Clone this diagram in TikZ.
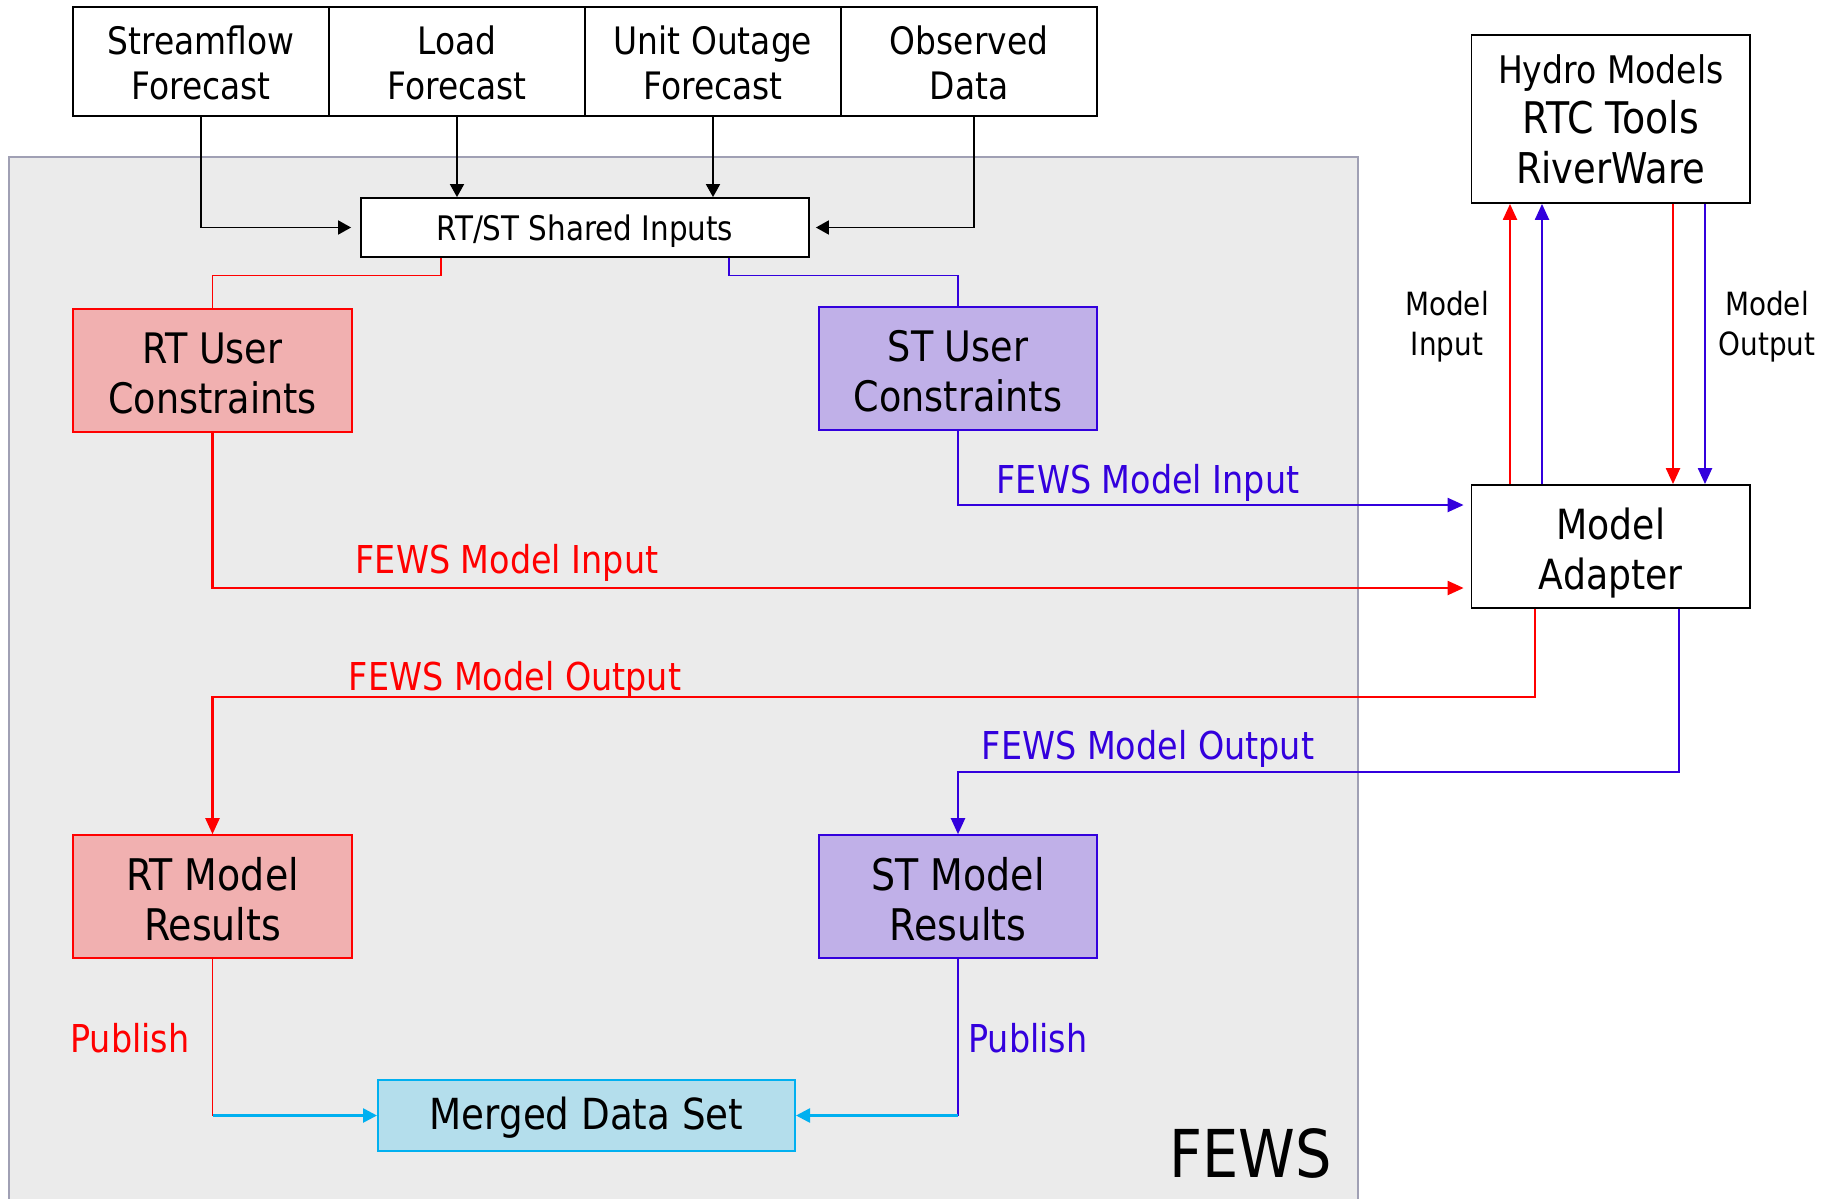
\documentclass[tikz,border=0pt]{standalone}
\usepackage{fontspec}
\newfontfamily\tah[FakeStretch=0.87]{DejaVu Sans}
\usetikzlibrary{arrows.meta,calc}
\definecolor{fred}{RGB}{255,0,0}
\definecolor{fblue}{RGB}{51,0,221}
\definecolor{rtfill}{RGB}{241,176,176}
\definecolor{stfill}{RGB}{192,176,232}
\definecolor{mfill}{RGB}{180,222,236}
\definecolor{fcyan}{RGB}{0,176,240}
\definecolor{fewsbg}{RGB}{235,235,235}
\definecolor{fewsline}{RGB}{160,160,180}
\newcommand{\fsz}[2]{\tah\fontsize{#1pt}{#2pt}\selectfont}
\newcommand{\tup}[1]{\rule{0pt}{#1}}
\tikzset{
  box/.style={draw=black, line width=0.9pt, fill=white, align=center, inner sep=0pt},
  topbox/.style={box, minimum width=128pt, minimum height=54.5pt, font=\fsz{18.9}{22.3}},
  bigbox/.style={box, minimum width=139.25pt, font=\fsz{20.8}{25}},
  rtbox/.style={box, draw=fred, line width=0.8pt, fill=rtfill, minimum width=139.5pt, minimum height=61.5pt, font=\fsz{21}{25}},
  stbox/.style={box, draw=fblue, line width=0.8pt, fill=stfill, minimum width=139pt, minimum height=61.5pt, font=\fsz{21}{25}},
  lbl/.style={inner sep=0pt, font=\fsz{19.2}{23}},
  smlbl/.style={inner sep=0pt, align=center, font=\fsz{16}{20}},
  blk/.style={line width=0.9pt, -{Triangle[length=6.5pt,width=7pt]}},
  rarr/.style={fred, line width=1.1pt, -{Triangle[length=8pt,width=7pt]}},
  barr/.style={fblue, line width=1.1pt, -{Triangle[length=8pt,width=7pt]}},
  carr/.style={fcyan, line width=1.3pt, -{Triangle[length=7pt,width=7pt]}},
}
\begin{document}
\begin{tikzpicture}[x=0.5pt,y=-0.5pt]
\useasboundingbox (0,0) rectangle (1837,1199);
\fill[white] (0,0) rectangle (1837,1199);
% FEWS background
\draw[fill=fewsbg, draw=fewsline, line width=1pt] (9,157) rectangle (1358,1210);
\node[anchor=base west, inner sep=0pt, font=\fsz{33}{38}] (fews) at (1169,1177) {FEWS};

% top input boxes
\node[topbox] (sf)   at (201,61.5) {\tup{15.6pt}Streamflow\\Forecast};
\node[topbox] (load) at (457,61.5) {\tup{15.6pt}Load\\Forecast};
\node[topbox] (unit) at (713,61.5) {\tup{15.6pt}Unit Outage\\Forecast};
\node[topbox] (obs)  at (969,61.5) {\tup{15.6pt}Observed\\Data};

\node[box, minimum width=224pt, minimum height=29.5pt, font=\fsz{16.9}{20}] (shared) at (585,227.5) {\tup{16.4pt}RT/ST Shared Inputs};

\node[rtbox] (rtuc) at (212.5,370.5) {\tup{17.8pt}RT User\\Constraints};
\node[stbox] (stuc) at (958,368.5) {\tup{17.8pt}ST User\\Constraints};
\node[rtbox, font=\fsz{21.8}{25}] (rtmr) at (212.5,896.5) {\tup{18.8pt}RT Model\\Results};
\node[stbox, font=\fsz{21.8}{25}] (stmr) at (958,896.5) {\tup{18.8pt}ST Model\\Results};
\node[box, draw=fcyan, line width=1pt, fill=mfill, minimum width=208.5pt, minimum height=35.5pt, font=\fsz{21.4}{25}] (merged) at (586.5,1115.5) {\tup{18.4pt}Merged Data Set};

\node[bigbox, minimum height=84pt] (hydro) at (1610.75,119) {{\fsz{19}{23}Hydro Models}\\{\fsz{21.8}{25}RTC Tools}\\{\fsz{21.2}{25}RiverWare}};
\node[bigbox, minimum height=61.5pt] (adapter) at (1610.75,546.5) {\tup{22.2pt}Model\\Adapter};

% inputs to shared
\coordinate (sfc) at (201,227.5);
\coordinate (obc) at (974,227.5);
\draw[blk, shorten >=4.5pt] (sf.south) -- (sfc) -- (shared.west);
\draw[blk] (load.south) -- (load.south |- shared.north);
\draw[blk] (unit.south) -- (unit.south |- shared.north);
\draw[blk, shorten >=3pt] (obs.south -| obc) -- (obc) -- (shared.east);

% shared to constraints
\coordinate (ra) at (441,275.5);
\coordinate (ba) at (729,275.5);
\draw[fred, line width=0.8pt] (shared.south -| ra) -- (ra) -| (rtuc.north);
\draw[fblue, line width=0.8pt] (shared.south -| ba) -- (ba) -| (stuc.north);

% constraints to adapter
\coordinate (bi) at (958,505);
\coordinate (ri) at (212.5,588);
\draw[barr, shorten >=3.5pt] (stuc.south) -- (bi) -- (bi -| adapter.west);
\draw[rarr, shorten >=3.5pt] (rtuc.south) -- (ri) -- (ri -| adapter.west);
\node[lbl, text=fblue] (lbi) at (1148,482.5) {FEWS Model Input};
\node[lbl, text=fred] (lri) at (507,562.5) {FEWS Model Input};

% adapter <-> hydro
\coordinate (u1) at (1510,0);
\coordinate (u2) at (1542,0);
\coordinate (d1) at (1673,0);
\coordinate (d2) at (1705,0);
\draw[rarr] (adapter.north -| u1) -- (hydro.south -| u1);
\draw[barr] (adapter.north -| u2) -- (hydro.south -| u2);
\draw[rarr] (hydro.south -| d1) -- (adapter.north -| d1);
\draw[barr] (hydro.south -| d2) -- (adapter.north -| d2);
\node[smlbl] (lmi) at (1447,326.5) {Model\\Input};
\node[smlbl] (lmo) at (1767,326.5) {Model\\Output};

% adapter to results
\coordinate (ro) at (1535,697);
\coordinate (bo) at (1679,772);
\draw[rarr] (adapter.south -| ro) -- (ro) -| (rtmr.north);
\draw[barr] (adapter.south -| bo) -- (bo) -| (stmr.north);
\node[lbl, text=fred] (lro) at (515,679.5) {FEWS Model Output};
\node[lbl, text=fblue] (lbo) at (1148,748.5) {FEWS Model Output};

% publish
\coordinate (rp) at (212.5,1115.5);
\coordinate (bp) at (958,1115.5);
\draw[fred, line width=0.8pt] (rtmr.south) -- (rp);
\draw[fblue, line width=0.8pt] (stmr.south) -- (bp);
\draw[carr] (rp) -- (merged.west);
\draw[carr] (bp) -- (merged.east);
\node[lbl, text=fred, anchor=west] (lrp) at (70,1038) {Publish};
\node[lbl, text=fblue, anchor=west] (lbp) at (968,1038) {Publish};
\end{tikzpicture}
\end{document}
